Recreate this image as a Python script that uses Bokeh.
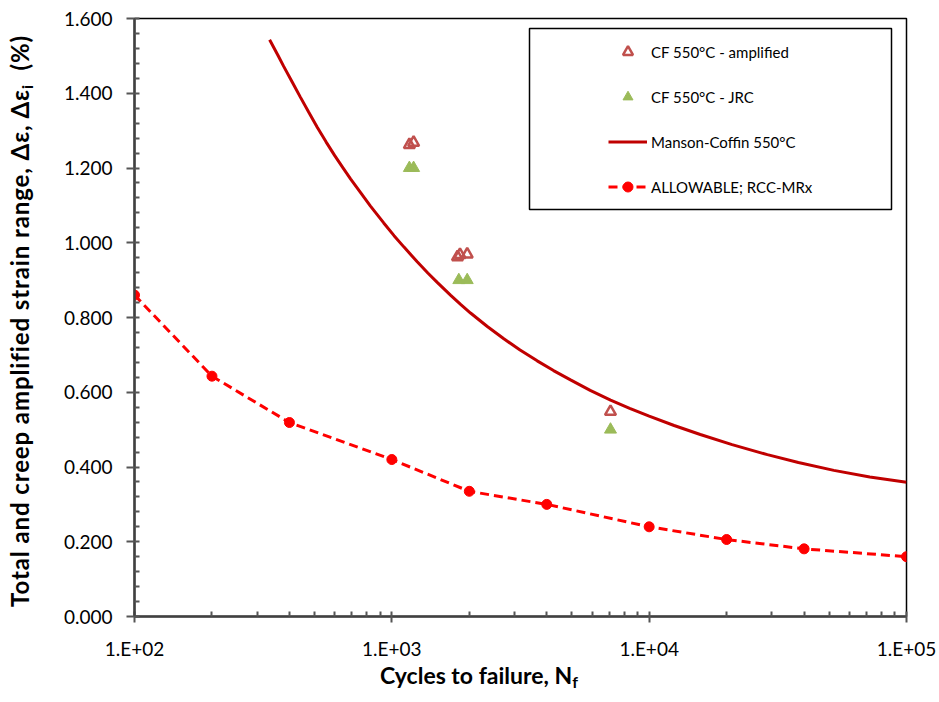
import math
from bokeh.plotting import figure
from bokeh.models import (FixedTicker, NumeralTickFormatter, CustomJSTickFormatter,
                          BoxAnnotation, Range1d, Div)
from bokeh.layouts import row, column
from bokeh.embed import file_html
from bokeh.resources import INLINE

# ---------------- data ----------------
allow_N = [100, 200, 400, 1000, 2000, 4000, 10000, 20000, 40000, 100000]
allow_y = [0.860, 0.643, 0.519, 0.420, 0.335, 0.300, 0.240, 0.206, 0.181, 0.160]

mc_N = [335, 360, 380, 410, 440, 475, 513, 555, 600, 645, 691, 760, 826, 930, 1020,
        1113, 1255, 1380, 1501, 1690, 1850, 2022, 2350, 2724, 3150, 3672, 4250, 4947,
        5900, 7080, 8400, 10000, 12500, 15800, 21000, 28800, 38000, 52200, 72000, 100000]
mc_y = [1.543, 1.503, 1.472, 1.430, 1.391, 1.350, 1.309, 1.270, 1.233, 1.201, 1.171,
        1.132, 1.098, 1.053, 1.019, 0.989, 0.949, 0.919, 0.894, 0.860, 0.835, 0.812,
        0.776, 0.743, 0.713, 0.684, 0.658, 0.633, 0.605, 0.579, 0.557, 0.536, 0.511,
        0.487, 0.460, 0.433, 0.412, 0.391, 0.373, 0.359]

amp_N = [1170, 1215, 1800, 1840, 1963, 7075]
amp_y = [1.262, 1.268, 0.962, 0.968, 0.969, 0.548]

jrc_N = [1170, 1215, 1821, 1963, 7075]
jrc_y = [1.200, 1.200, 0.900, 0.900, 0.500]

x_tick_values = [100, 1000, 10000, 100000]
x_tick_labels = ["1.E+02", "1.E+03", "1.E+04", "1.E+05"]
x_minor_values = [m * d for d in (100, 1000, 10000) for m in range(2, 10)]
y_tick_values = [0.0, 0.2, 0.4, 0.6, 0.8, 1.0, 1.2, 1.4, 1.6]
y_minor_values = [round(i * 0.04, 2) for i in range(0, 41)]

series_labels = ["CF 550°C - amplified", "CF 550°C - JRC",
                 "Manson-Coffin 550°C", "ALLOWABLE; RCC-MRx"]
x_title = ("Cycles to failure, N", "f", "")
y_title = ("Total and creep amplified strain range, Δε, Δε", "i", "&nbsp;&nbsp;(%)")

FONT = "Lato"
W, H = 939, 702
YDIV_W = 44
PH = 662

# ---------------- figure ----------------
p = figure(width=W - YDIV_W, height=PH, x_axis_type="log",
           x_range=Range1d(100, 100000), y_range=Range1d(0, 1.6),
           output_backend="svg", toolbar_location=None,
           min_border_left=134 - YDIV_W, min_border_right=33,
           min_border_top=18, min_border_bottom=PH - 617)
p.xgrid.visible = False
p.ygrid.visible = False
p.outline_line_color = "black"
p.outline_line_width = 1.5
p.background_fill_color = "white"
p.border_fill_color = "white"

# series
p.line(mc_N, mc_y, line_color="#C00000", line_width=3, legend_label=series_labels[2])
p.line(allow_N, allow_y, line_color="#FF0000", line_width=3, line_dash="9 5",
       legend_label=series_labels[3])
p.scatter(allow_N, allow_y, marker="circle", size=10, fill_color="#FF0000",
          line_color="#FF0000", legend_label=series_labels[3])
p.scatter(amp_N, amp_y, marker="triangle", size=11, fill_color=None,
          line_color="#C0504D", line_width=2.5, legend_label=series_labels[0])
p.scatter(jrc_N, jrc_y, marker="triangle", size=12, fill_color="#9BBB59",
          line_color="#9BBB59", line_width=1, legend_label=series_labels[1])

# legend
leg = p.legend[0]
order = {lab: i for i, lab in enumerate(series_labels)}
leg.items = sorted(leg.items, key=lambda it: order[it.label.value])
leg.location = (474, 417)
leg.padding = 0
leg.margin = 0
leg.spacing = 20
leg.glyph_width = 39
leg.glyph_height = 25
leg.label_height = 25
leg.label_standoff = 4
leg.label_text_font = FONT
leg.label_text_font_size = "15px"
leg.label_text_color = "black"
leg.border_line_alpha = 0
leg.background_fill_alpha = 0

p.add_layout(BoxAnnotation(left=395, right=757, top=588, bottom=407,
                           left_units="screen", right_units="screen",
                           top_units="screen", bottom_units="screen",
                           fill_alpha=0, line_color="black", line_width=1.5,
                           line_alpha=1))

# axes
xa = p.xaxis[0]
xa.ticker = FixedTicker(ticks=x_tick_values, minor_ticks=x_minor_values)
xa.formatter = CustomJSTickFormatter(
    code="const e = Math.round(Math.log10(tick)); return '1.E+' + (e < 10 ? '0' + e : e);")
xa.major_label_overrides = dict(zip(x_tick_values, x_tick_labels))
xa.major_tick_in = 5
xa.major_tick_out = 6
xa.minor_tick_in = 5
xa.minor_tick_out = 0
xa.major_label_standoff = 14

ya = p.yaxis[0]
ya.ticker = FixedTicker(ticks=y_tick_values, minor_ticks=y_minor_values)
ya.formatter = NumeralTickFormatter(format="0.000")
ya.major_tick_in = 0
ya.major_tick_out = 8
ya.minor_tick_in = 5
ya.minor_tick_out = 0
ya.major_label_standoff = 14

for ax in (xa, ya):
    ax.axis_line_color = "#404040"
    ax.axis_line_width = 2.5
    ax.major_tick_line_color = "#555555"
    ax.major_tick_line_width = 2
    ax.minor_tick_line_color = "#555555"
    ax.minor_tick_line_width = 2
    ax.major_label_text_font = FONT
    ax.major_label_text_font_size = "19px"
    ax.major_label_text_color = "black"

# axis titles as HTML (subscripts)
base_css = f"font-family:{FONT}; font-weight:bold; color:black; white-space:nowrap; width:max-content; line-height:1.2;"
sub_css = "font-size:16px; vertical-align:-4px;"
ytext = f"{y_title[0]}<span style='{sub_css}'>{y_title[1]}</span>{y_title[2]}"
xtext = f"{x_title[0]}<span style='{sub_css}'>{x_title[1]}</span>{x_title[2]}"

ydiv = Div(text=f"<div style='{base_css} font-size:24px; letter-spacing:0.9px; margin-left:6px; margin-top:321px; "
                f"transform-origin:left top; transform:rotate(-90deg) translateX(-50%);'>{ytext}</div>",
           width=YDIV_W, height=H, margin=0, styles={"overflow": "hidden"})
xdiv = Div(text=f"<div style='{base_css} font-size:23px; margin-left:{479 - YDIV_W}px; margin-top:0px; "
                f"transform:translateX(-50%);'>{xtext}</div>",
           width=W - YDIV_W, height=H - PH, margin=0, styles={"overflow": "hidden"})

layout = row(ydiv, column(p, xdiv, spacing=0, margin=0), spacing=0, margin=0)

open("out.html", "w").write(file_html(layout, INLINE))
